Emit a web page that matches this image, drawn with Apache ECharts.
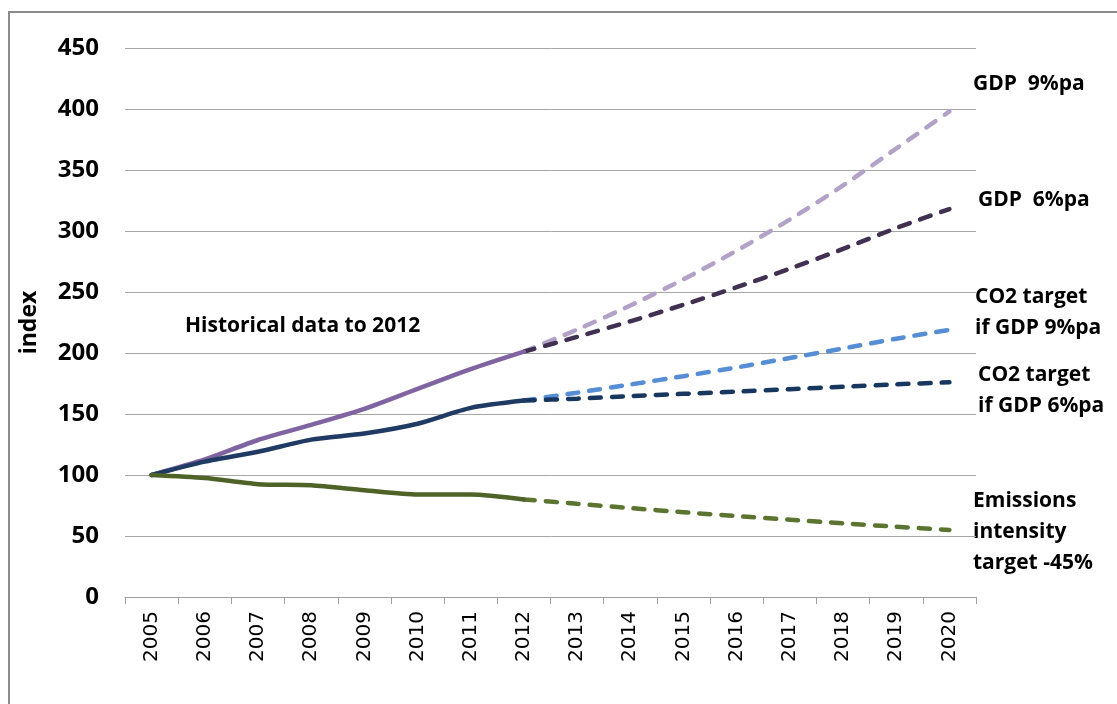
<!DOCTYPE html>
<html>
<head>
<meta charset="utf-8">
<title>GDP, CO2 and emissions intensity index</title>
<script src="https://cdn.jsdelivr.net/npm/echarts@6/dist/echarts.min.js"></script>
<style>
  html, body { margin: 0; padding: 0; background: #ffffff; }
  #chart { width: 1117px; height: 704px; }
</style>
</head>
<body>
<div id="chart"></div>
<script>
// Years on the category axis
const years = ['2005','2006','2007','2008','2009','2010','2011','2012',
               '2013','2014','2015','2016','2017','2018','2019','2020'];

// Y axis ticks
const yMin = 0, yMax = 450, yStep = 50;

// Historical index values, 2005 = 100 (2005-2012)
const gdpHistory       = [100, 112.7, 128.7, 141.1, 154.2, 170.6, 186.8, 201.1];
const co2History       = [100, 111, 119, 129, 134, 142, 155, 161];
const intensityHistory = [100, 97.5, 92.5, 91.5, 87.5, 84, 84, 80];

// Projections 2012-2020
const gdp9Path       = [201.1, 219.2, 238.9, 260.4, 283.9, 309.4, 337.3, 367.6, 398];
const gdp6Path       = [201.1, 213.2, 226.0, 239.5, 253.9, 269.1, 285.3, 302.4, 318];
const co2If9Path     = [161, 167.5, 174.2, 181.0, 188.2, 195.9, 203.7, 211.7, 219];
const co2If6Path     = [161, 162.6, 164.7, 166.5, 168.3, 170.3, 172.3, 174.3, 176];
const intensityPath  = [80, 76.4, 72.9, 69.5, 66.3, 63.3, 60.4, 57.6, 55];

// Labels drawn beside the projection lines
const sideLabels = [
  { lines: ['GDP  9%pa'], x: 973, y: 84 },
  { lines: ['GDP  6%pa'], x: 978, y: 200 },
  { lines: ['CO2 target', 'if GDP 9%pa'], x: 975, y: 297 },
  { lines: ['CO2 target', 'if GDP 6%pa'], x: 978, y: 375 },
  { lines: ['Emissions', 'intensity', 'target -45%'], x: 973, y: 501 }
];
const historyNote = 'Historical data to 2012';

// Place history at the start of the axis, projections from 2012 on
function history(vals) {
  return years.map((_, i) => (i < vals.length ? vals[i] : null));
}
function projection(vals) {
  const start = years.length - vals.length;
  return years.map((_, i) => (i >= start ? vals[i - start] : null));
}

const LW = 4.5;
function solid(name, data, color) {
  return {
    name, type: 'line', data: history(data), smooth: 0.25,
    symbol: 'none', connectNulls: false, z: 5,
    lineStyle: { color, width: LW, cap: 'round', join: 'round' }
  };
}
function dashed(name, data, color, z) {
  return {
    name, type: 'line', data: projection(data), smooth: 0.25,
    symbol: 'none', connectNulls: false, z: z,
    lineStyle: { color, width: LW, type: [11, 11], cap: 'round' }
  };
}

const chart = echarts.init(document.getElementById('chart'), null, { renderer: 'canvas' });

const labelFont = '"Open Sans", "Noto Sans", "Liberation Sans", sans-serif';
const graphics = [
  {
    type: 'rect', silent: true, z: -1,
    shape: { x: 9, y: 12, width: 1130, height: 720 },
    style: { fill: 'none', stroke: '#8c8c8c', lineWidth: 2 }
  },
  {
    type: 'text', x: 185, y: 326,
    style: { text: historyNote, font: 'bold 21px ' + labelFont, fill: '#000000',
             verticalAlign: 'middle' }
  }
];
sideLabels.forEach(l => {
  l.lines.forEach((t, k) => {
    graphics.push({
      type: 'text', x: l.x, y: l.y + k * 31,
      style: { text: t, font: 'bold 21px ' + labelFont, fill: '#000000',
               verticalAlign: 'middle' }
    });
  });
});

chart.setOption({
  animation: false,
  backgroundColor: '#ffffff',
  grid: { left: 125, right: 141, top: 48, bottom: 107, containLabel: false },
  xAxis: {
    type: 'category', data: years, boundaryGap: true,
    axisLine: { lineStyle: { color: '#a0a0a0', width: 1 } },
    axisTick: { show: true, interval: 0, length: 7, lineStyle: { color: '#a0a0a0' } },
    axisLabel: {
      interval: 0, rotate: 90, margin: 14, color: '#000000',
      fontFamily: '"DejaVu Sans", sans-serif', fontSize: 20
    },
    splitLine: { show: false }
  },
  yAxis: {
    type: 'value', min: yMin, max: yMax, interval: yStep,
    name: 'index', nameLocation: 'middle', nameGap: 84, nameRotate: 90,
    nameTextStyle: { fontFamily: labelFont, fontWeight: 'bold', fontSize: 23, color: '#000000' },
    axisLine: { show: false }, axisTick: { show: false },
    axisLabel: { margin: 26, color: '#000000', fontFamily: labelFont, fontWeight: 'bold', fontSize: 24 },
    splitLine: { lineStyle: { color: '#a6a6a6', width: 1 } }
  },
  series: [
    dashed('GDP 9%pa', gdp9Path, '#b3a2c7', 2),
    dashed('GDP 6%pa', gdp6Path, '#403152', 3),
    dashed('CO2 target if GDP 9%pa', co2If9Path, '#558ed5', 2),
    dashed('CO2 target if GDP 6%pa', co2If6Path, '#17375e', 3),
    dashed('Emissions intensity target -45%', intensityPath, '#5b7530', 3),
    solid('GDP', gdpHistory, '#8064a2'),
    solid('CO2 emissions', co2History, '#1f3b63'),
    solid('Emissions intensity', intensityHistory, '#4f6228')
  ],
  graphic: graphics
});
</script>
</body>
</html>
